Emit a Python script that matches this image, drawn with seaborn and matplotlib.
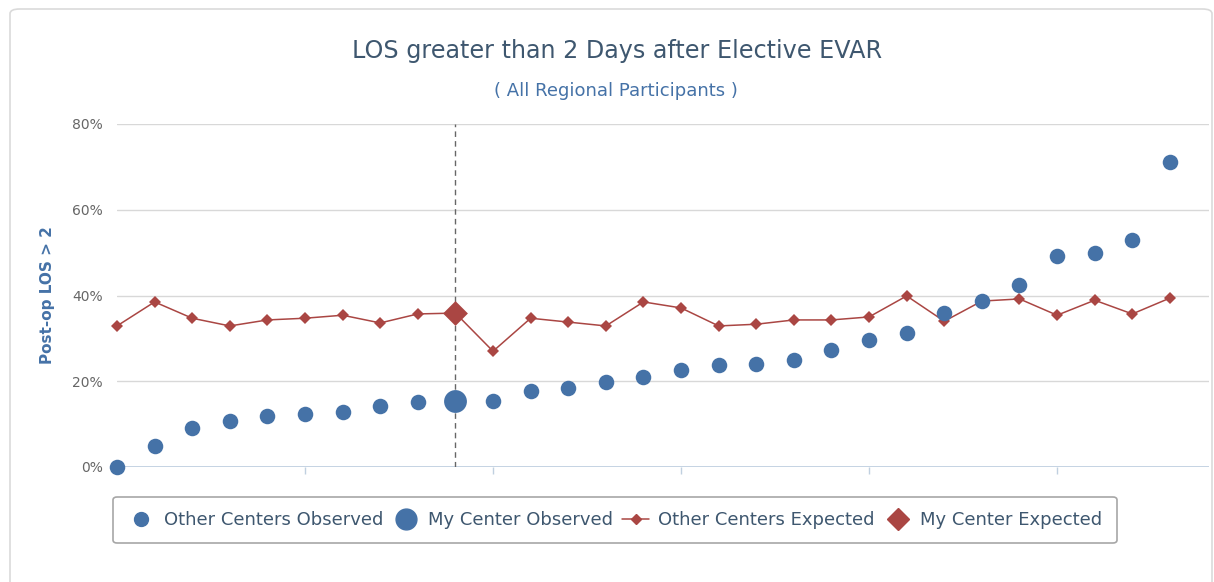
import matplotlib
matplotlib.use("Agg")
import matplotlib.pyplot as plt
from matplotlib.lines import Line2D
from matplotlib.patches import FancyBboxPatch
import numpy as np
import pandas as pd
import seaborn as sns

# center rank (0 = lowest observed rate)
center = list(range(29))
observed = [0.0, 4.9, 9.1, 10.7, 11.9, 12.4, 12.8, 14.2, 15.2, 15.4,
            15.4, 17.7, 18.4, 19.8, 21.0, 22.6, 23.8, 24.0, 24.9, 27.3,
            29.6, 31.2, 35.9, 38.7, 42.4, 49.2, 49.9, 52.9, 71.1]
expected = [32.9, 38.5, 34.7, 32.9, 34.3, 34.7, 35.4, 33.6, 35.7, 35.9,
            27.0, 34.7, 33.8, 32.9, 38.5, 37.1, 32.9, 33.3, 34.3, 34.3,
            35.0, 39.9, 34.0, 38.7, 39.2, 35.4, 38.9, 35.7, 39.4]
my_center = 9

title = "LOS greater than 2 Days after Elective EVAR"
subtitle = "( All Regional Participants )"
ylabel = "Post-op LOS > 2"
yticks = [0, 20, 40, 60, 80]
legend_labels = ["Other Centers Observed", "My Center Observed",
                 "Other Centers Expected", "My Center Expected"]

blue = "#4572A7"
red = "#AA4643"
txt = "#3E576F"

df = pd.DataFrame({"center": center, "observed": observed, "expected": expected})
others = df[df["center"] != my_center]
mine = df[df["center"] == my_center]

sns.set_style("white")
fig = plt.figure(figsize=(12.14, 5.82), dpi=100)
W, H = 1214, 582
ax = fig.add_axes([117 / W, 1 - 467 / H, (1209 - 117) / W, (467 - 124) / H])

# outer chart border
fig.patches.append(FancyBboxPatch((10 / W, -0.05), 1202 / W, 1.05 - 9 / H,
                                  boxstyle="round,pad=0,rounding_size=0.008",
                                  transform=fig.transFigure, fill=False,
                                  edgecolor="#DADADA", lw=1.2))

for v in yticks[1:]:
    ax.axhline(v, color="#D8D8D8", lw=1, zorder=0)
ax.axhline(0, color="#C0D0E0", lw=1.3, zorder=0)
ax.axvline(my_center, color="#666666", lw=1, ls=(0, (4, 3)), zorder=1)

sns.lineplot(data=df, x="center", y="expected", color=red, lw=1.1,
             marker="D", markersize=6.5, markeredgewidth=0, ax=ax, zorder=3,
             clip_on=False)
sns.scatterplot(data=mine, x="center", y="expected", color=red, marker="D",
                s=160, linewidth=0, ax=ax, zorder=4, clip_on=False)
sns.scatterplot(data=others, x="center", y="observed", color=blue, s=125,
                linewidth=0, ax=ax, zorder=5, clip_on=False)
sns.scatterplot(data=mine, x="center", y="observed", color=blue, s=270,
                linewidth=0, ax=ax, zorder=5, clip_on=False)

ax.set_xlim(0, 29.04)
ax.set_ylim(0, 80)
ax.set_xticks([5, 10, 15, 20, 25])
ax.set_xticklabels([])
ax.tick_params(axis="x", length=5, width=1, color="#C0D0E0", direction="out",
               bottom=True)
ax.set_yticks(yticks)
ax.set_yticklabels([f"{v}%" for v in yticks], color="#666666", fontsize=10)
ax.tick_params(axis="y", length=0, pad=10)
for s in ax.spines.values():
    s.set_visible(False)
ax.set_xlabel("")
ax.set_ylabel(ylabel, color=blue, fontsize=11, fontweight="bold")
ax.yaxis.set_label_coords(-62 / (1209 - 117), 0.5)

fig.text(617 / W, 1 - 51 / H, title, ha="center", va="center", fontsize=17.2,
         color=txt)
fig.text(616 / W, 1 - 91 / H, subtitle, ha="center", va="center",
         fontsize=13, color=blue)

handles = [
    Line2D([], [], ls="", marker="o", color=blue, markersize=10),
    Line2D([], [], ls="", marker="o", color=blue, markersize=15),
    Line2D([], [], ls="-", lw=1.1, marker="D", color=red, markersize=5.5),
    Line2D([], [], ls="", marker="D", color=red, markersize=11),
]
leg = fig.legend(handles, legend_labels, loc="center",
                 bbox_to_anchor=(615 / W, 1 - 520 / H), ncol=4, fontsize=13,
                 frameon=True, fancybox=True, edgecolor="#909090",
                 handlelength=1.5, handletextpad=0.5, columnspacing=0.5,
                 borderpad=0.8)
leg.get_frame().set_linewidth(1.2)
for t in leg.get_texts():
    t.set_color(txt)

fig.savefig("out.png", dpi=100)
